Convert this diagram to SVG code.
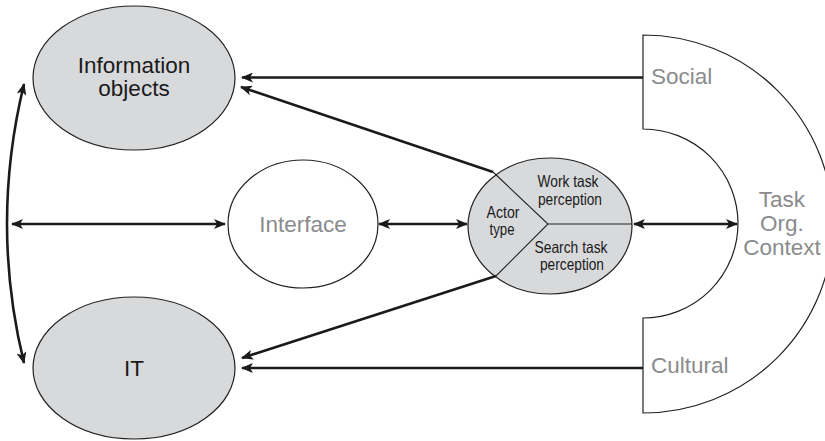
<svg xmlns="http://www.w3.org/2000/svg" width="825" height="441" viewBox="0 0 825 441">
<style>
.node{stroke:#222;stroke-width:1.2}
.shaded{fill:#d8d9db}
.plain{fill:#fff}
.lbl{font-family:"Liberation Sans",Arial,sans-serif;font-size:22.5px;fill:#1a1a1a;text-anchor:middle}
.gray{fill:#8a8b8d}
.start{text-anchor:start}
.small{font-family:"Liberation Sans",Arial,sans-serif;font-size:16.5px;fill:#1a1a1a;text-anchor:middle}
.conn{stroke:#1a1a1a;stroke-width:2.6;fill:none}
.thin{stroke:#222;stroke-width:1.1;fill:none}
</style>
<defs>
<marker id="ah" markerUnits="userSpaceOnUse" viewBox="0 0 12 10" refX="11" refY="5" markerWidth="12" markerHeight="10" orient="auto-start-reverse">
<path d="M0,0 L12,5 L0,10 L3,5 z" fill="#1a1a1a"/>
</marker>
</defs>
<rect width="825" height="441" fill="#fff"/>

<g id="context">
<path class="node" fill="#fff" d="M643,35 A190,189 0 0 1 643,413 L643,318 A95,94.5 0 0 0 643,129 Z"/>
<text class="lbl gray start" x="651" y="84">Social</text>
<text class="lbl gray start" x="651" y="373">Cultural</text>
<text class="lbl gray" x="782" y="207">Task</text>
<text class="lbl gray" x="782" y="231">Org.</text>
<text class="lbl gray" x="782" y="255">Context</text>
</g>

<g id="info-objects">
<ellipse class="node shaded" cx="134" cy="78" rx="101" ry="72"/>
<text class="lbl" x="134" y="73">Information</text>
<text class="lbl" x="134" y="96">objects</text>
</g>

<g id="it">
<ellipse class="node shaded" cx="134" cy="368" rx="101" ry="71"/>
<text class="lbl" x="134" y="376">IT</text>
</g>

<g id="interface">
<ellipse class="node plain" cx="303" cy="224" rx="75" ry="64"/>
<text class="lbl gray" x="303" y="232">Interface</text>
</g>

<g id="actor">
<ellipse class="node shaded" cx="550" cy="226" rx="82" ry="68"/>
<path class="thin" d="M493,172 L548,224 L496,276 M548,224 L632,224"/>
<text class="small" x="568" y="187" textLength="61" lengthAdjust="spacingAndGlyphs">Work task</text>
<text class="small" x="570" y="205" textLength="64" lengthAdjust="spacingAndGlyphs">perception</text>
<text class="small" x="503" y="218" textLength="33" lengthAdjust="spacingAndGlyphs">Actor</text>
<text class="small" x="502" y="235" textLength="25" lengthAdjust="spacingAndGlyphs">type</text>
<text class="small" x="571" y="253" textLength="73" lengthAdjust="spacingAndGlyphs">Search task</text>
<text class="small" x="572" y="270" textLength="64" lengthAdjust="spacingAndGlyphs">perception</text>
</g>

<g id="connectors">
<path class="conn" d="M643,77.5 L242,77.5" marker-end="url(#ah)"/>
<path class="conn" d="M493,172 L241,87" marker-end="url(#ah)"/>
<path class="conn" d="M496,276 L242,358" marker-end="url(#ah)"/>
<path class="conn" d="M643,368 L242,368" marker-end="url(#ah)"/>
<path class="conn" d="M12,224 L225,224" marker-start="url(#ah)" marker-end="url(#ah)"/>
<path class="conn" d="M379,224 L467,224" marker-start="url(#ah)" marker-end="url(#ah)"/>
<path class="conn" d="M634,224 L737,224" marker-start="url(#ah)" marker-end="url(#ah)"/>
<path class="conn" d="M24,84 Q-10,224 24,363" marker-start="url(#ah)" marker-end="url(#ah)"/>
</g>
</svg>
